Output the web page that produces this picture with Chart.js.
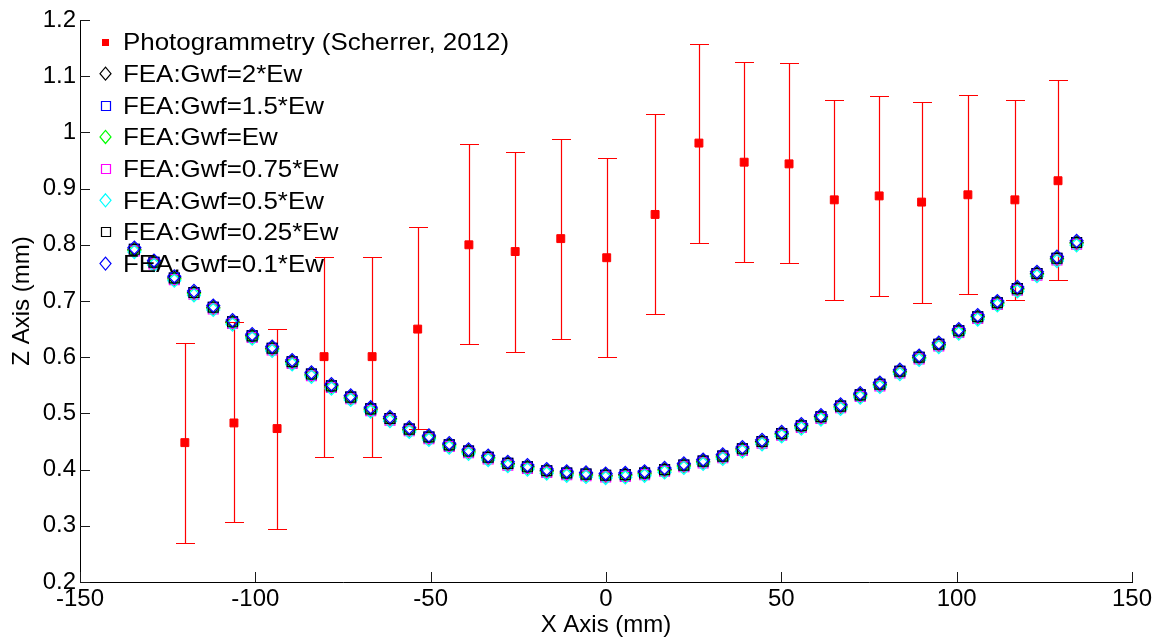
<!DOCTYPE html>
<html>
<head>
<meta charset="utf-8">
<script src="https://cdn.jsdelivr.net/npm/chart.js@4/dist/chart.umd.min.js"></script>
<style>
  html, body { margin: 0; padding: 0; background: #ffffff; }
  #wrap { width: 1168px; height: 641px; position: relative; }
</style>
</head>
<body>
<div id="wrap"><canvas id="c"></canvas></div>
<script>
// ---- tick labels ----
const xTickValues = [-150, -100, -50, 0, 50, 100, 150];
const yTickValues = [0.2, 0.3, 0.4, 0.5, 0.6, 0.7, 0.8, 0.9, 1.0, 1.1, 1.2];

// ---- series labels ----
const seriesLabels = [
  'Photogrammetry (Scherrer, 2012)',
  'FEA:Gwf=2*Ew',
  'FEA:Gwf=1.5*Ew',
  'FEA:Gwf=Ew',
  'FEA:Gwf=0.75*Ew',
  'FEA:Gwf=0.5*Ew',
  'FEA:Gwf=0.25*Ew',
  'FEA:Gwf=0.1*Ew'
];

// ---- photogrammetry (with error bars) ----
const photoX    = [-120.1, -106.1, -93.8, -80.4, -66.7, -53.7, -39.1, -25.9, -12.9, 0.2, 14.0, 26.5, 39.4, 52.2, 65.1, 77.9, 90.0, 103.2, 116.6, 128.9];
const photoZ    = [0.448, 0.483, 0.473, 0.601, 0.601, 0.650, 0.800, 0.788, 0.811, 0.777, 0.854, 0.981, 0.947, 0.944, 0.880, 0.887, 0.876, 0.889, 0.880, 0.914];
const photoLow  = [0.270, 0.306, 0.295, 0.422, 0.422, 0.473, 0.623, 0.610, 0.633, 0.600, 0.677, 0.803, 0.770, 0.767, 0.702, 0.709, 0.697, 0.712, 0.702, 0.737];
const photoHigh = [0.625, 0.662, 0.650, 0.778, 0.778, 0.831, 0.979, 0.966, 0.989, 0.955, 1.032, 1.158, 1.126, 1.124, 1.057, 1.065, 1.054, 1.067, 1.057, 1.093];

// ---- FEA results ----
const feaX = [-134.5, -128.9, -123.1, -117.5, -112.0, -106.5, -100.9, -95.2, -89.5, -84.0, -78.3, -72.8, -67.1, -61.6, -56.1, -50.5,
  -44.7, -39.2, -33.6, -28.0, -22.4, -16.9, -11.2, -5.7, -0.1, 5.5, 11.0, 16.7, 22.2, 27.7, 33.3, 38.9, 44.5,
  50.1, 55.7, 61.3, 66.9, 72.5, 78.1, 83.8, 89.3, 94.9, 100.6, 106.0, 111.6, 117.3, 122.9, 128.6, 134.2];

const feaGwf2 = [0.792, 0.769, 0.741, 0.715, 0.689, 0.663, 0.638, 0.616, 0.592, 0.570, 0.549, 0.529, 0.508, 0.491, 0.472, 0.458,
  0.444, 0.433, 0.422, 0.411, 0.405, 0.398, 0.394, 0.392, 0.390, 0.391, 0.394, 0.400, 0.408, 0.415, 0.424, 0.437, 0.450,
  0.464, 0.478, 0.494, 0.513, 0.533, 0.552, 0.575, 0.600, 0.623, 0.647, 0.672, 0.697, 0.722, 0.749, 0.776, 0.804];
const feaGwf15 = [0.792, 0.769, 0.741, 0.715, 0.689, 0.663, 0.638, 0.616, 0.592, 0.570, 0.549, 0.529, 0.508, 0.491, 0.472, 0.458,
  0.444, 0.433, 0.422, 0.411, 0.405, 0.398, 0.394, 0.392, 0.390, 0.391, 0.394, 0.400, 0.408, 0.415, 0.424, 0.437, 0.450,
  0.464, 0.478, 0.494, 0.513, 0.533, 0.552, 0.575, 0.600, 0.623, 0.647, 0.672, 0.697, 0.722, 0.749, 0.776, 0.804];
const feaGwf1 = [0.790, 0.767, 0.739, 0.713, 0.687, 0.661, 0.636, 0.614, 0.590, 0.568, 0.547, 0.527, 0.506, 0.489, 0.470, 0.456,
  0.442, 0.431, 0.420, 0.409, 0.403, 0.396, 0.392, 0.390, 0.388, 0.389, 0.392, 0.398, 0.406, 0.413, 0.422, 0.435, 0.448,
  0.462, 0.476, 0.492, 0.511, 0.531, 0.550, 0.573, 0.598, 0.621, 0.645, 0.670, 0.695, 0.720, 0.747, 0.774, 0.802];
const feaGwf075 = [0.789, 0.766, 0.738, 0.712, 0.686, 0.660, 0.635, 0.613, 0.589, 0.567, 0.546, 0.526, 0.505, 0.488, 0.469, 0.455,
  0.441, 0.430, 0.419, 0.408, 0.402, 0.395, 0.391, 0.389, 0.387, 0.388, 0.391, 0.397, 0.405, 0.412, 0.421, 0.434, 0.447,
  0.461, 0.475, 0.491, 0.510, 0.530, 0.549, 0.572, 0.597, 0.620, 0.644, 0.669, 0.694, 0.719, 0.746, 0.773, 0.801];
const feaGwf05 = [0.787, 0.764, 0.736, 0.710, 0.684, 0.658, 0.633, 0.611, 0.587, 0.565, 0.544, 0.524, 0.503, 0.486, 0.467, 0.453,
  0.439, 0.428, 0.417, 0.406, 0.400, 0.393, 0.389, 0.387, 0.385, 0.386, 0.389, 0.395, 0.403, 0.410, 0.419, 0.432, 0.445,
  0.459, 0.473, 0.489, 0.508, 0.528, 0.547, 0.570, 0.595, 0.618, 0.642, 0.667, 0.692, 0.717, 0.744, 0.771, 0.799];
const feaGwf025 = [0.792, 0.769, 0.741, 0.715, 0.689, 0.663, 0.638, 0.616, 0.592, 0.570, 0.549, 0.529, 0.508, 0.491, 0.472, 0.458,
  0.444, 0.433, 0.422, 0.411, 0.405, 0.398, 0.394, 0.392, 0.390, 0.391, 0.394, 0.400, 0.408, 0.415, 0.424, 0.437, 0.450,
  0.464, 0.478, 0.494, 0.513, 0.533, 0.552, 0.575, 0.600, 0.623, 0.647, 0.672, 0.697, 0.722, 0.749, 0.776, 0.804];
const feaGwf01 = [0.795, 0.772, 0.744, 0.718, 0.692, 0.666, 0.641, 0.619, 0.595, 0.573, 0.552, 0.532, 0.511, 0.494, 0.475, 0.461,
  0.447, 0.436, 0.425, 0.414, 0.408, 0.401, 0.397, 0.395, 0.393, 0.394, 0.397, 0.403, 0.411, 0.418, 0.427, 0.440, 0.453,
  0.467, 0.481, 0.497, 0.516, 0.536, 0.555, 0.578, 0.603, 0.626, 0.650, 0.675, 0.700, 0.725, 0.752, 0.779, 0.807];

// ---- styles ----
const FONT = '"Liberation Sans", Arial, Helvetica, sans-serif';
const RED = '#ff0000';
const feaSeries = [feaGwf2, feaGwf15, feaGwf1, feaGwf075, feaGwf05, feaGwf025, feaGwf01];
const feaColors = ['#000000', '#0000ff', '#00ff00', '#ff00ff', '#00ffff', '#000000', '#0000ff'];
const feaShapes = ['rectRot', 'rect', 'rectRot', 'rect', 'rectRot', 'rect', 'rectRot'];

const datasets = [];
datasets.push({
  label: seriesLabels[0],
  data: photoX.map((x, i) => ({ x: x, y: photoZ[i] })),
  pointStyle: 'rect',
  pointRadius: 5.6,
  backgroundColor: RED,
  borderColor: RED,
  borderWidth: 1,
  order: 8,
  clip: false
});
feaSeries.forEach((arr, k) => {
  datasets.push({
    label: seriesLabels[k + 1],
    data: feaX.map((x, i) => ({ x: x, y: arr[i] })),
    pointStyle: feaShapes[k],
    pointRadius: feaShapes[k] === 'rect' ? 7 : 6.5,
    backgroundColor: 'rgba(0,0,0,0)',
    borderColor: feaColors[k],
    borderWidth: 1.2,
    order: 7 - k,
    clip: false
  });
});

// ---- plugins ----
const errorBarPlugin = {
  id: 'errorBars',
  beforeDatasetsDraw(chart) {
    const ctx = chart.ctx, xs = chart.scales.x, ys = chart.scales.y;
    ctx.save();
    ctx.strokeStyle = RED;
    ctx.lineWidth = 1.2;
    photoX.forEach((xv, i) => {
      const px = Math.round(xs.getPixelForValue(xv)) + 0.5;
      const pl = Math.round(ys.getPixelForValue(photoLow[i])) + 0.5;
      const ph = Math.round(ys.getPixelForValue(photoHigh[i])) + 0.5;
      ctx.beginPath();
      ctx.moveTo(px, pl); ctx.lineTo(px, ph);
      ctx.moveTo(px - 9.5, pl); ctx.lineTo(px + 9.5, pl);
      ctx.moveTo(px - 9.5, ph); ctx.lineTo(px + 9.5, ph);
      ctx.stroke();
    });
    ctx.restore();
  }
};

const tickMarkPlugin = {
  id: 'innerTicks',
  afterDatasetsDraw(chart) {
    const ctx = chart.ctx, xs = chart.scales.x, ys = chart.scales.y, a = chart.chartArea;
    ctx.save();
    ctx.strokeStyle = '#1a1a1a';
    ctx.lineWidth = 1;
    ctx.beginPath();
    xTickValues.forEach(v => {
      const px = Math.round(xs.getPixelForValue(v)) + 0.5;
      ctx.moveTo(px, a.bottom); ctx.lineTo(px, a.bottom - 10);
    });
    yTickValues.forEach(v => {
      const py = Math.round(ys.getPixelForValue(v)) + 0.5;
      ctx.moveTo(a.left, py); ctx.lineTo(a.left + 10, py);
    });
    ctx.stroke();
    ctx.restore();
  }
};

const legendPlugin = {
  id: 'insideLegend',
  afterDraw(chart) {
    const ctx = chart.ctx;
    ctx.save();
    const mx = 105.5, tx = 123, y0 = 42, dy = 31.66;
    seriesLabels.forEach((label, i) => {
      const cy = y0 + i * dy;
      ctx.lineWidth = 1.2;
      if (i === 0) {
        ctx.fillStyle = RED;
        ctx.fillRect(Math.round(mx - 3.5), Math.round(cy - 3.5), 7, 7);
      } else {
        const k = i - 1;
        ctx.strokeStyle = feaColors[k];
        ctx.beginPath();
        if (feaShapes[k] === 'rect') {
          ctx.rect(Math.round(mx - 4.5) + 0.5, Math.round(cy - 4.5) + 0.5, 9, 9);
        } else {
          ctx.moveTo(mx, cy - 6.5);
          ctx.lineTo(mx + 5.5, cy);
          ctx.lineTo(mx, cy + 6.5);
          ctx.lineTo(mx - 5.5, cy);
          ctx.closePath();
        }
        ctx.stroke();
      }
      ctx.fillStyle = '#000000';
      ctx.font = '24px ' + FONT;
      ctx.textAlign = 'left';
      ctx.textBaseline = 'alphabetic';
      ctx.save();
      ctx.translate(tx, cy + 8.4);
      ctx.scale(1.08, 1);
      ctx.fillText(label, 0, 0);
      ctx.restore();
    });
    ctx.restore();
  }
};

new Chart(document.getElementById('c'), {
  type: 'scatter',
  data: { datasets: datasets },
  options: {
    responsive: true,
    maintainAspectRatio: false,
    animation: false,
    devicePixelRatio: 1,
    events: [],
    layout: { padding: { left: 0, top: 20, right: 36, bottom: 0 } },
    plugins: { legend: { display: false }, tooltip: { enabled: false } },
    scales: {
      x: {
        type: 'linear',
        min: -150, max: 150,
        afterBuildTicks: s => { s.ticks = xTickValues.map(v => ({ value: v })); },
        afterFit: s => { s.height = 59; },
        grid: { display: false, drawTicks: false },
        border: { display: true, color: '#000000', width: 1 },
        ticks: { color: '#000000', font: { family: FONT, size: 24 }, padding: 3, autoSkip: false, maxRotation: 0,
                 callback: v => String(v) },
        title: { display: true, text: 'X Axis (mm)', color: '#000000', font: { family: FONT, size: 24 },
                 padding: { top: 0, bottom: 1 } }
      },
      y: {
        type: 'linear',
        min: 0.2, max: 1.2,
        afterBuildTicks: s => { s.ticks = yTickValues.map(v => ({ value: v })); },
        afterFit: s => { s.width = 80; },
        grid: { display: false, drawTicks: false },
        border: { display: true, color: '#000000', width: 1 },
        ticks: { color: '#000000', font: { family: FONT, size: 24 }, padding: 4, autoSkip: false,
                 callback: v => String(Math.round(v * 10) / 10) },
        title: { display: true, text: 'Z Axis (mm)', color: '#000000', font: { family: FONT, size: 24 },
                 padding: { top: 8, bottom: 0 } }
      }
    }
  },
  plugins: [errorBarPlugin, tickMarkPlugin, legendPlugin]
});
</script>
</body>
</html>
